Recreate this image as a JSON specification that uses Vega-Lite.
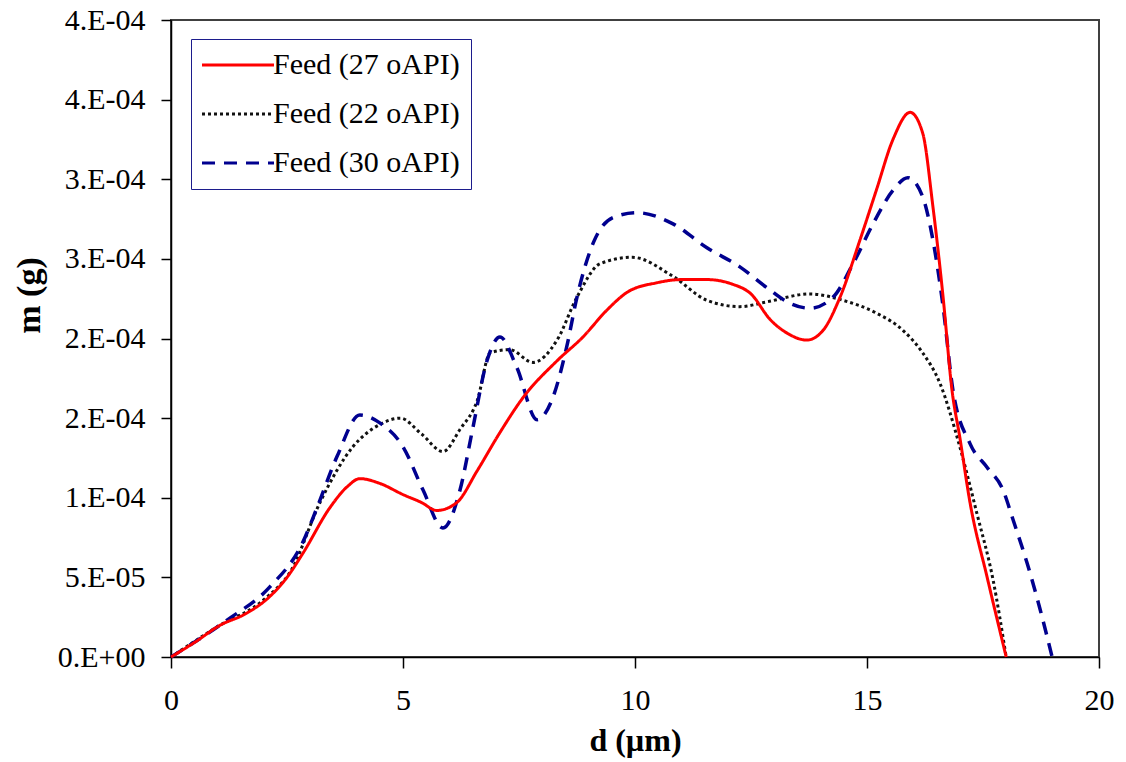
{
  "$schema": "https://vega.github.io/schema/vega-lite/v6.json",
  "width": 928,
  "height": 637,
  "autosize": {"type": "none"},
  "padding": {"left": 171, "top": 20, "right": 27, "bottom": 105},
  "background": "white",
  "config": {
    "view": {"stroke": "#404040", "strokeWidth": 2},
    "font": "Liberation Serif"
  },
  "datasets": {
    "s27": [
      {"d": 0, "m": 0}, {"d": 0.5, "m": 0.000009}, {"d": 1.06, "m": 0.00002}, {"d": 1.6, "m": 0.000027},
      {"d": 2.13, "m": 0.000038}, {"d": 2.5, "m": 0.00005}, {"d": 2.84, "m": 0.000065}, {"d": 3.43, "m": 0.000094}, {"d": 3.8, "m": 0.000107},
      {"d": 4.07, "m": 0.000112}, {"d": 4.5, "m": 0.000109}, {"d": 5.0, "m": 0.000102}, {"d": 5.4, "m": 0.000097},
      {"d": 5.73, "m": 0.000092}, {"d": 6.16, "m": 0.000097}, {"d": 6.6, "m": 0.000117}, {"d": 7.09, "m": 0.000141},
      {"d": 7.59, "m": 0.000163}, {"d": 8.32, "m": 0.000186}, {"d": 8.88, "m": 0.000201}, {"d": 9.4, "m": 0.000218},
      {"d": 9.83, "m": 0.000229}, {"d": 10.47, "m": 0.000235}, {"d": 11.0, "m": 0.000237}, {"d": 11.55, "m": 0.000237},
      {"d": 12.11, "m": 0.000234}, {"d": 12.5, "m": 0.000228}, {"d": 12.91, "m": 0.000212}, {"d": 13.3, "m": 0.000203},
      {"d": 13.7, "m": 0.000199}, {"d": 14.05, "m": 0.000205}, {"d": 14.42, "m": 0.000226}, {"d": 14.85, "m": 0.000262},
      {"d": 15.2, "m": 0.000293}, {"d": 15.56, "m": 0.000325}, {"d": 15.93, "m": 0.000342}, {"d": 16.2, "m": 0.000329},
      {"d": 16.42, "m": 0.000283}, {"d": 16.64, "m": 0.000226}, {"d": 16.83, "m": 0.000168}, {"d": 17.0, "m": 0.000138},
      {"d": 17.22, "m": 0.000097}, {"d": 17.59, "m": 0.00005}, {"d": 18.0, "m": 0}
    ],
    "s22": [
      {"d": 0, "m": 0}, {"d": 1.0, "m": 0.000019}, {"d": 2.0, "m": 0.000036}, {"d": 2.6, "m": 0.000055},
      {"d": 3.21, "m": 0.000097}, {"d": 3.92, "m": 0.000132}, {"d": 4.5, "m": 0.000146}, {"d": 4.94, "m": 0.00015},
      {"d": 5.4, "m": 0.00014}, {"d": 5.86, "m": 0.000129}, {"d": 6.23, "m": 0.000143}, {"d": 6.6, "m": 0.000161},
      {"d": 6.88, "m": 0.000191}, {"d": 7.3, "m": 0.000193}, {"d": 7.8, "m": 0.000185}, {"d": 8.32, "m": 0.000199},
      {"d": 8.75, "m": 0.000226}, {"d": 9.25, "m": 0.000247}, {"d": 9.94, "m": 0.000251}, {"d": 10.82, "m": 0.000239},
      {"d": 11.55, "m": 0.000224}, {"d": 12.26, "m": 0.00022}, {"d": 12.84, "m": 0.000223}, {"d": 13.77, "m": 0.000228},
      {"d": 14.48, "m": 0.000224}, {"d": 15.2, "m": 0.000216}, {"d": 15.78, "m": 0.000205}, {"d": 16.2, "m": 0.000191},
      {"d": 16.57, "m": 0.000172}, {"d": 17.0, "m": 0.000132}, {"d": 17.37, "m": 0.00009}, {"d": 17.72, "m": 0.000048},
      {"d": 18.0, "m": 0}
    ],
    "s30": [
      {"d": 0, "m": 0}, {"d": 1.2, "m": 0.000023}, {"d": 2.13, "m": 0.000044}, {"d": 2.84, "m": 0.000072},
      {"d": 3.15, "m": 0.000094}, {"d": 3.58, "m": 0.000126}, {"d": 4.07, "m": 0.000152}, {"d": 4.5, "m": 0.000147},
      {"d": 5.0, "m": 0.000132}, {"d": 5.43, "m": 0.000105}, {"d": 5.86, "m": 0.000081}, {"d": 6.23, "m": 0.000105},
      {"d": 6.5, "m": 0.000143}, {"d": 6.81, "m": 0.000186}, {"d": 7.09, "m": 0.000201}, {"d": 7.45, "m": 0.000182},
      {"d": 7.89, "m": 0.000149}, {"d": 8.23, "m": 0.000163}, {"d": 8.53, "m": 0.000195}, {"d": 8.75, "m": 0.000226},
      {"d": 9.1, "m": 0.00026}, {"d": 9.53, "m": 0.000276}, {"d": 10.04, "m": 0.000279}, {"d": 10.82, "m": 0.000272},
      {"d": 11.55, "m": 0.000257}, {"d": 12.26, "m": 0.000245}, {"d": 12.84, "m": 0.000232}, {"d": 13.28, "m": 0.000223},
      {"d": 13.77, "m": 0.000219}, {"d": 14.27, "m": 0.000226}, {"d": 14.7, "m": 0.000247}, {"d": 15.13, "m": 0.000272},
      {"d": 15.56, "m": 0.000293}, {"d": 15.88, "m": 0.000301}, {"d": 16.2, "m": 0.000289}, {"d": 16.42, "m": 0.000262},
      {"d": 16.64, "m": 0.00022}, {"d": 16.85, "m": 0.000168}, {"d": 17.22, "m": 0.000134}, {"d": 17.59, "m": 0.000119},
      {"d": 17.93, "m": 0.000105}, {"d": 18.15, "m": 0.000086}, {"d": 18.45, "m": 0.000059}, {"d": 18.73, "m": 0.00003},
      {"d": 18.99, "m": 0}
    ]
  },
  "layer": [
    {
      "data": {"name": "s22"},
      "transform": [{"calculate": "'Feed (22 oAPI)'", "as": "series"}],
      "mark": {"type": "line", "interpolate": "monotone", "strokeWidth": 3},
      "encoding": {
        "x": {"field": "d", "type": "quantitative"},
        "y": {"field": "m", "type": "quantitative"},
        "color": {"field": "series", "type": "nominal"},
        "strokeDash": {"field": "series", "type": "nominal"}
      }
    },
    {
      "data": {"name": "s30"},
      "transform": [{"calculate": "'Feed (30 oAPI)'", "as": "series"}],
      "mark": {"type": "line", "interpolate": "monotone", "strokeWidth": 3.5},
      "encoding": {
        "x": {"field": "d", "type": "quantitative"},
        "y": {"field": "m", "type": "quantitative"},
        "color": {"field": "series", "type": "nominal"},
        "strokeDash": {"field": "series", "type": "nominal"}
      }
    },
    {
      "data": {"name": "s27"},
      "transform": [{"calculate": "'Feed (27 oAPI)'", "as": "series"}],
      "mark": {"type": "line", "interpolate": "monotone", "strokeWidth": 3},
      "encoding": {
        "x": {
          "field": "d", "type": "quantitative",
          "scale": {"domain": [0, 20], "nice": false},
          "axis": {
            "title": "d (µm)", "values": [0, 5, 10, 15, 20], "grid": false, "labelFlush": false,
            "domainColor": "#000000", "domainWidth": 1.5, "tickColor": "#000000", "tickWidth": 1.5, "tickSize": 11,
            "labelFont": "Liberation Serif", "labelFontSize": 30, "labelColor": "#000000", "labelPadding": 17,
            "titleFont": "Liberation Serif", "titleFontSize": 32, "titleFontWeight": "bold", "titleColor": "#000000", "titlePadding": 10
          }
        },
        "y": {
          "field": "m", "type": "quantitative",
          "scale": {"domain": [0, 0.0004], "nice": false},
          "axis": {
            "title": "m (g)", "grid": false, "labelFlush": false,
            "values": [0, 0.00005, 0.0001, 0.00015, 0.0002, 0.00025, 0.0003, 0.00035, 0.0004],
            "labelExpr": "datum.value == 0 ? '0.E+00' : (round(datum.value / pow(10, floor(log(datum.value) / LN10 + 1e-9)) + 1e-6) + '.E-0' + abs(floor(log(datum.value) / LN10 + 1e-9)))",
            "domainColor": "#000000", "domainWidth": 1.5, "tickColor": "#000000", "tickWidth": 1.5, "tickSize": 10,
            "labelFont": "Liberation Serif", "labelFontSize": 30, "labelColor": "#000000", "labelPadding": 16,
            "titleFont": "Liberation Serif", "titleFontSize": 34, "titleFontWeight": "bold", "titleColor": "#000000",
            "titleX": -125, "titleY": 275
          }
        },
        "color": {
          "field": "series", "type": "nominal",
          "scale": {"domain": ["Feed (27 oAPI)", "Feed (22 oAPI)", "Feed (30 oAPI)"], "range": ["#ff0000", "#111111", "#00008f"]},
          "legend": {
            "title": null, "orient": "none", "legendX": 20, "legendY": 19,
            "strokeColor": "#1c1c8c", "fillColor": "white",
            "padding": 11, "rowPadding": 19,
            "symbolType": "M-3,0H3", "symbolSize": 576, "symbolStrokeWidth": 3, "symbolOffset": 21,
            "labelFont": "Liberation Serif", "labelFontSize": 30, "labelColor": "#000000", "labelOffset": 20, "labelLimit": 400
          }
        },
        "strokeDash": {
          "field": "series", "type": "nominal",
          "scale": {"domain": ["Feed (27 oAPI)", "Feed (22 oAPI)", "Feed (30 oAPI)"], "range": [[1, 0], [3, 3], [13, 9]]},
          "legend": null
        }
      }
    }
  ]
}
